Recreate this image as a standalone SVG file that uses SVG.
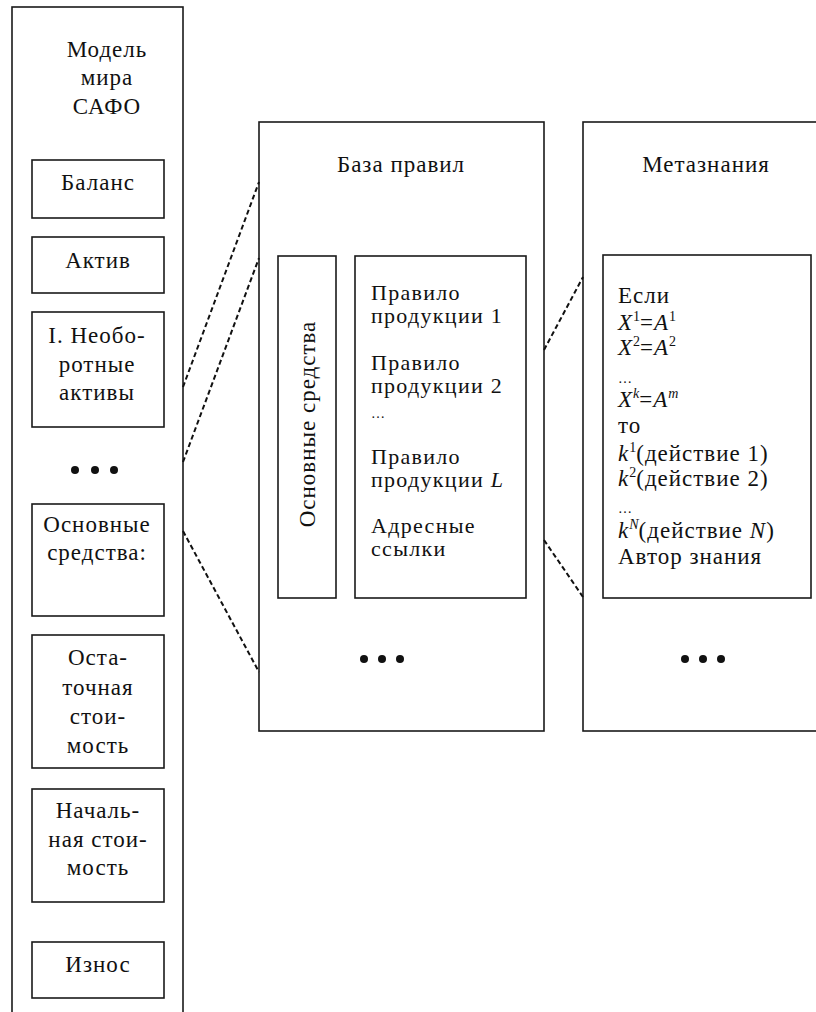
<svg xmlns="http://www.w3.org/2000/svg" width="816" height="1012" viewBox="0 0 816 1012">
<style>
.box{fill:none;stroke:#1a1a1a;stroke-width:1.6}
.t{font-family:"Liberation Serif","Times New Roman",serif;font-size:23px;letter-spacing:1px;fill:#111}
.r{font-size:22px;letter-spacing:1.3px}
.c{text-anchor:middle}
.i{font-style:italic}
.sup{font-size:14px;letter-spacing:0}
.dot{fill:#111}
.conn{fill:none;stroke:#111;stroke-width:2;stroke-dasharray:5 3}
</style>
<rect width="816" height="1012" fill="#fff"/>
<g id="model">
<rect class="box" x="12" y="7" width="171" height="1015"/>
<text class="t c" x="107" y="57">Модель</text>
<text class="t c" x="107" y="85">мира</text>
<text class="t c" x="107" y="114">САФО</text>
</g>
<g id="balance">
<rect class="box" x="32" y="160" width="132" height="58"/>
<text class="t c" x="98" y="190">Баланс</text>
</g>
<g id="aktiv">
<rect class="box" x="32" y="237" width="132" height="56"/>
<text class="t c" x="98" y="268">Актив</text>
</g>
<g id="neoborot">
<rect class="box" x="32" y="312" width="132" height="115"/>
<text class="t c" x="97" y="343">I. Необо-</text>
<text class="t c" x="97" y="372">ротные</text>
<text class="t c" x="97" y="400">активы</text>
</g>
<g id="dots-left">
<circle class="dot" cx="75" cy="470" r="4"/>
<circle class="dot" cx="95" cy="470" r="4"/>
<circle class="dot" cx="114" cy="470" r="4"/>
</g>
<g id="osnovnye">
<rect class="box" x="32" y="504" width="132" height="112"/>
<text class="t c" x="97" y="532">Основные</text>
<text class="t c" x="97" y="560">средства:</text>
</g>
<g id="ostatochnaya">
<rect class="box" x="32" y="635" width="132" height="133"/>
<text class="t c" x="98" y="665">Оста-</text>
<text class="t c" x="98" y="695">точная</text>
<text class="t c" x="98" y="724">стои-</text>
<text class="t c" x="98" y="753">мость</text>
</g>
<g id="nachalnaya">
<rect class="box" x="32" y="789" width="132" height="113"/>
<text class="t c" x="98" y="818">Началь-</text>
<text class="t c" x="98" y="847">ная стои-</text>
<text class="t c" x="98" y="875">мость</text>
</g>
<g id="iznos">
<rect class="box" x="32" y="942" width="132" height="56"/>
<text class="t c" x="98" y="972">Износ</text>
</g>
<g id="baza">
<rect class="box" x="259" y="122" width="285" height="609"/>
<text class="t c" x="401" y="172">База правил</text>
<circle class="dot" cx="364" cy="659" r="4"/>
<circle class="dot" cx="382" cy="659" r="4"/>
<circle class="dot" cx="400" cy="659" r="4"/>
</g>
<g id="os-vertical">
<rect class="box" x="278" y="256" width="58" height="342"/>
<text class="t c" transform="translate(315 424) rotate(-90)" x="0" y="0">Основные средства</text>
</g>
<g id="rules">
<rect class="box" x="355" y="256" width="171" height="342"/>
<text class="t r" x="371" y="300">Правило</text>
<text class="t r" x="371" y="323">продукции 1</text>
<text class="t r" x="371" y="370">Правило</text>
<text class="t r" x="371" y="393">продукции 2</text>
<text class="t" x="371" y="418" style="font-size:14px">…</text>
<text class="t r" x="371" y="464">Правило</text>
<text class="t r" x="371" y="487">продукции <tspan class="i">L</tspan></text>
<text class="t r" x="371" y="533">Адресные</text>
<text class="t r" x="371" y="556">ссылки</text>
</g>
<g id="meta">
<rect class="box" x="583" y="122" width="240" height="609"/>
<text class="t c" x="706" y="172">Метазнания</text>
<circle class="dot" cx="685" cy="659" r="4"/>
<circle class="dot" cx="703" cy="659" r="4"/>
<circle class="dot" cx="721" cy="659" r="4"/>
</g>
<g id="meta-rule">
<rect class="box" x="603" y="255" width="208" height="343"/>
<text class="t" x="618" y="303">Если</text>
<text class="t" x="618" y="330"><tspan class="i">X</tspan><tspan class="sup" dy="-9">1</tspan><tspan dy="9">=</tspan><tspan class="i">A</tspan><tspan class="sup" dy="-9">1</tspan></text>
<text class="t" x="618" y="355"><tspan class="i">X</tspan><tspan class="sup" dy="-9">2</tspan><tspan dy="9">=</tspan><tspan class="i">A</tspan><tspan class="sup" dy="-9">2</tspan></text>
<text class="t" x="618" y="383" style="font-size:14px">…</text>
<text class="t" x="618" y="407"><tspan class="i">X</tspan><tspan class="sup i" dy="-9">k</tspan><tspan dy="9">=</tspan><tspan class="i">A</tspan><tspan class="sup i" dy="-9">m</tspan></text>
<text class="t" x="618" y="433">то</text>
<text class="t" x="618" y="461"><tspan class="i">k</tspan><tspan class="sup" dy="-9">1</tspan><tspan dy="9">(действие 1)</tspan></text>
<text class="t" x="618" y="486"><tspan class="i">k</tspan><tspan class="sup" dy="-9">2</tspan><tspan dy="9">(действие 2)</tspan></text>
<text class="t" x="618" y="513" style="font-size:14px">…</text>
<text class="t" x="618" y="538"><tspan class="i">k</tspan><tspan class="sup i" dy="-9">N</tspan><tspan dy="9">(действие </tspan><tspan class="i">N</tspan>)</text>
<text class="t" x="618" y="564">Автор знания</text>
</g>
<g id="connectors">
<line class="conn" x1="183" y1="387" x2="259" y2="182"/>
<line class="conn" x1="183" y1="462" x2="259" y2="258"/>
<line class="conn" x1="183" y1="531" x2="259" y2="672"/>
<line class="conn" x1="544" y1="350" x2="583" y2="277"/>
<line class="conn" x1="544" y1="540" x2="583" y2="597"/>
</g>
</svg>
